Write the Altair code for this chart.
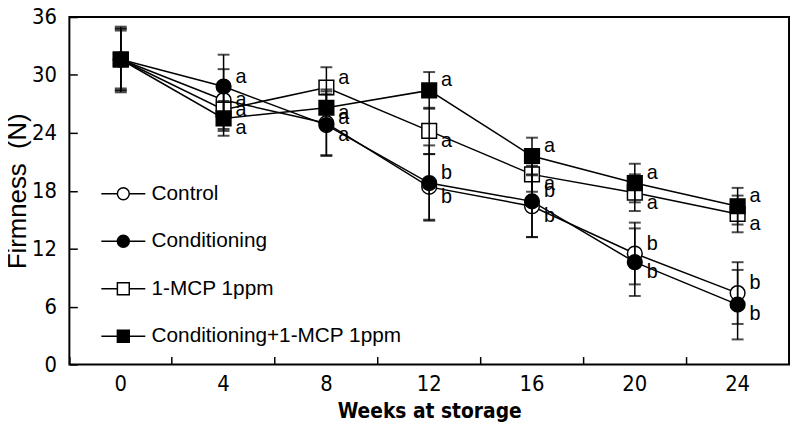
import altair as alt
import pandas as pd

weeks = [0, 4, 8, 12, 16, 20, 24]
series = ["Control", "Conditioning", "1-MCP 1ppm", "Conditioning+1-MCP 1ppm"]

control = [31.6, 27.4, 25.0, 18.4, 16.4, 11.5, 7.4]
conditioning = [31.6, 28.8, 24.8, 18.8, 16.9, 10.6, 6.2]
mcp = [31.6, 26.4, 28.7, 24.2, 19.7, 17.8, 15.6]
cond_mcp = [31.6, 25.5, 26.6, 28.4, 21.6, 18.8, 16.4]

control_sd = [3.2, 3.2, 3.3, 3.4, 3.2, 3.2, 3.2]
conditioning_sd = [3.0, 3.3, 3.2, 3.9, 3.7, 3.5, 3.6]
mcp_sd = [3.2, 2.0, 2.1, 2.4, 1.8, 1.9, 1.9]
cond_mcp_sd = [3.4, 1.8, 1.9, 1.9, 1.9, 2.0, 1.9]

control_let = ["", "a", "a", "b", "b", "b", "b"]
conditioning_let = ["", "a", "a", "b", "b", "b", "b"]
mcp_let = ["", "a", "a", "a", "a", "a", "a"]
cond_mcp_let = ["", "a", "a", "a", "a", "a", "a"]

y_ticks = [0, 6, 12, 18, 24, 30, 36]

vals = [control, conditioning, mcp, cond_mcp]
sds = [control_sd, conditioning_sd, mcp_sd, cond_mcp_sd]
lets = [control_let, conditioning_let, mcp_let, cond_mcp_let]
pair = {0: 1, 1: 0, 2: 3, 3: 2}

rows = []
for i, s in enumerate(series):
    for j, w in enumerate(weeks):
        v = vals[i][j]
        other = vals[pair[i]][j]
        rows.append({
            "week": str(w), "series": s, "v": v,
            "lo": v - sds[i][j], "hi": v + sds[i][j],
            "letter": lets[i][j],
            "pos": "upper" if v >= other else "lower",
        })
df = pd.DataFrame(rows)

tick_font = "Liberation Sans Narrow, DejaVu Sans Condensed, sans-serif"

week_order = [str(w) for w in weeks]
x = alt.X("week:N", sort=week_order,
          scale=alt.Scale(type="band", paddingInner=0, paddingOuter=0),
          axis=alt.Axis(title="Weeks at storage", bandPosition=0, labelAngle=0,
                        domain=False, offset=-8, tickSize=8, labelPadding=9,
                        titlePadding=7))
y_scale = alt.Scale(domain=[0, 36], nice=False, zero=True)
y = alt.Y("v:Q", scale=y_scale,
          axis=alt.Axis(title="Firmness\u00a0\u00a0(N)", values=y_ticks, grid=False,
                        domain=False, offset=-8, tickSize=8, labelPadding=13,
                        titlePadding=1))

base = alt.Chart(df)

lines = base.mark_line(color="black", strokeWidth=1.5).encode(
    x=x, y=y, detail="series:N")

pts = base.mark_point(filled=True, stroke="black", strokeWidth=1.5, opacity=1).encode(
    x=x, y=y,
    shape=alt.Shape("series:N", scale=alt.Scale(domain=series,
                    range=["circle", "circle", "square", "square"]), legend=None),
    fill=alt.Fill("series:N", scale=alt.Scale(domain=series,
                  range=["white", "black", "white", "black"]), legend=None),
    size=alt.Size("series:N", scale=alt.Scale(domain=series,
                  range=[220, 220, 260, 260]), legend=None),
)

err = base.mark_rule(color="black", strokeWidth=1.5).encode(
    x=x, y=alt.Y("lo:Q", scale=y_scale), y2="hi:Q")
cap_lo = base.mark_tick(color="black", size=12, thickness=2).encode(
    x=x, y=alt.Y("lo:Q", scale=y_scale))
cap_hi = base.mark_tick(color="black", size=12, thickness=2).encode(
    x=x, y=alt.Y("hi:Q", scale=y_scale))

txt_up = base.transform_filter("datum.pos == 'upper'").mark_text(
    align="left", baseline="middle", dx=12, dy=-10, fontSize=20,
    font="Liberation Sans", color="black").encode(x=x, y=y, text="letter:N")
txt_lo = base.transform_filter("datum.pos == 'lower'").mark_text(
    align="left", baseline="middle", dx=12, dy=10, fontSize=20,
    font="Liberation Sans", color="black").encode(x=x, y=y, text="letter:N")

circle_path = "M-3.7,0H-1M1,0H3.7M-1,0A1,1 0 1,0 1,0A1,1 0 1,0 -1,0Z"
square_path = "M-3.7,0H-1M1,0H3.7M-1,-1H1V1H-1Z"

legend_layer = base.transform_filter("datum.v < -100").mark_point(
    filled=True, strokeWidth=1.5, opacity=1).encode(
    x=x, y=y,
    shape=alt.Shape("series:N", scale=alt.Scale(domain=series,
                    range=[circle_path, circle_path, square_path, square_path]),
                    legend=alt.Legend(title=None, orient="none", legendX=44, legendY=168,
                                      symbolSize=144, symbolStrokeWidth=1.5,
                                      symbolOpacity=1,
                                      labelFont="Liberation Sans", labelFontSize=21,
                                      labelColor="black", labelOffset=18, labelLimit=500,
                                      rowPadding=26, padding=0)),
    fill=alt.Fill("series:N", scale=alt.Scale(domain=series,
                  range=["white", "black", "white", "black"])),
    stroke=alt.Stroke("series:N", scale=alt.Scale(domain=series,
                      range=["black", "black", "black", "black"])),
)

chart = alt.layer(lines, pts, err, cap_lo, cap_hi, txt_up, txt_lo, legend_layer).resolve_scale(
    shape="independent", fill="independent", stroke="independent"
).properties(
    width=727, height=351,
    autosize=alt.AutoSizeParams(type="none"),
    padding={"left": 62, "top": 7, "right": 2, "bottom": 60},
).configure_view(
    stroke="black", strokeWidth=2
).configure_axis(
    labelFont=tick_font, labelFontSize=22, labelColor="black",
    tickColor="black", tickWidth=1.5,
    titleColor="black",
).configure_axisX(
    titleFont="DejaVu Sans Condensed", titleFontSize=21, titleFontWeight="bold",
).configure_axisY(
    titleFont="Liberation Sans", titleFontSize=26, titleFontWeight="normal",
)

chart.save("out.html", embed_options={"renderer": "svg", "actions": False})
